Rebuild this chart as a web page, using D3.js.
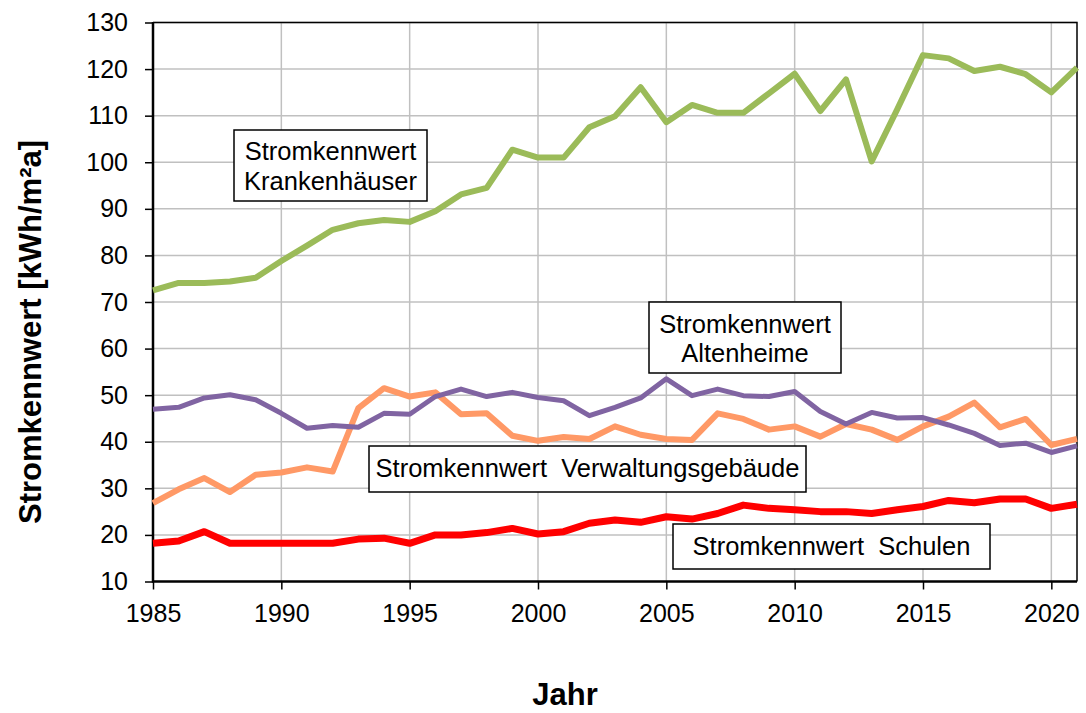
<!DOCTYPE html>
<html>
<head>
<meta charset="utf-8">
<script src="https://cdn.jsdelivr.net/npm/d3@7"></script>
<style>
body { margin: 0; background: #fff; }
svg text { font-family: "Liberation Sans", Arial, sans-serif; }
</style>
</head>
<body>
<div id="chart"></div>
<script>
var years = [1985, 1986, 1987, 1988, 1989, 1990, 1991, 1992, 1993, 1994, 1995, 1996, 1997, 1998, 1999,
	2000, 2001, 2002, 2003, 2004, 2005, 2006, 2007, 2008, 2009, 2010, 2011, 2012, 2013, 2014,
	2015, 2016, 2017, 2018, 2019, 2020, 2021];
var krankenhaeuser = [72.5, 74.1, 74.1, 74.4, 75.2, 78.8, 82.1, 85.5, 86.9, 87.6, 87.2, 89.5, 93.1, 94.5, 102.7,
	101.0, 101.0, 107.5, 109.9, 116.1, 108.6, 112.3, 110.6, 110.6, 114.8, 119.0, 111.0, 117.8, 100.2, 111.4,
	123.0, 122.3, 119.6, 120.5, 118.9, 115.0, 120.3];
var verwaltung = [26.8, 29.8, 32.2, 29.2, 32.9, 33.4, 34.5, 33.6, 47.2, 51.5, 49.7, 50.6, 45.9, 46.1, 41.3,
	40.2, 41.0, 40.6, 43.3, 41.5, 40.6, 40.4, 46.1, 44.9, 42.6, 43.3, 41.1, 43.8, 42.6, 40.4,
	43.3, 45.4, 48.4, 43.1, 44.9, 39.3, 40.6];
var altenheime = [47.0, 47.4, 49.4, 50.1, 49.0, 46.1, 42.9, 43.5, 43.1, 46.1, 45.9, 49.7, 51.3, 49.7, 50.6,
	49.5, 48.8, 45.6, 47.4, 49.4, 53.5, 49.9, 51.3, 49.9, 49.7, 50.8, 46.5, 43.8, 46.3, 45.1,
	45.2, 43.6, 41.8, 39.2, 39.7, 37.7, 39.1];
var schulen = [18.2, 18.7, 20.7, 18.2, 18.2, 18.2, 18.2, 18.2, 19.1, 19.3, 18.2, 20.0, 20.0, 20.5, 21.4,
	20.2, 20.7, 22.5, 23.2, 22.7, 23.9, 23.4, 24.6, 26.4, 25.7, 25.4, 25.0, 25.0, 24.6, 25.4,
	26.1, 27.4, 26.9, 27.7, 27.7, 25.7, 26.6];
var xTicks = [1985, 1990, 1995, 2000, 2005, 2010, 2015, 2020];
var yTicks = [10, 20, 30, 40, 50, 60, 70, 80, 90, 100, 110, 120, 130];

var series = [
	{name: 'Krankenhäuser', values: krankenhaeuser, color: '#9bbb59', width: 6},
	{name: 'Verwaltungsgebäude', values: verwaltung, color: '#ff9966', width: 6},
	{name: 'Altenheime', values: altenheime, color: '#8064a2', width: 5},
	{name: 'Schulen', values: schulen, color: '#ff0000', width: 7}
];

var w = 1086;
var h = 713;
var pLeft = 153, pRight = 1077, pTop = 22.5, pBottom = 581.5;

var svg = d3.select('#chart')
	.append('svg')
	.attr('width', w)
	.attr('height', h);

var xScale = d3.scaleLinear()
	.domain([1985, 2021])
	.range([pLeft, pRight]);
var yScale = d3.scaleLinear()
	.domain([10, 130])
	.range([pBottom, pTop]);

// gridlines
svg.append('g')
	.selectAll('line')
	.data(xTicks.slice(1))
	.enter()
	.append('line')
	.attr('x1', function (d) {return xScale(d);})
	.attr('x2', function (d) {return xScale(d);})
	.attr('y1', pTop)
	.attr('y2', pBottom)
	.attr('stroke', '#c0c0c0')
	.attr('stroke-width', 1.5);
svg.append('g')
	.selectAll('line')
	.data(yTicks.slice(1))
	.enter()
	.append('line')
	.attr('x1', pLeft)
	.attr('x2', pRight)
	.attr('y1', function (d) {return yScale(d);})
	.attr('y2', function (d) {return yScale(d);})
	.attr('stroke', '#c0c0c0')
	.attr('stroke-width', 1.5);

// frame top / right
svg.append('path')
	.attr('d', 'M' + pLeft + ',' + pTop + 'H' + pRight + 'V' + pBottom)
	.attr('fill', 'none')
	.attr('stroke', '#000')
	.attr('stroke-width', 1.5);

// axes
var xAxis = d3.axisBottom(xScale).tickValues(xTicks).tickSize(8).tickSizeOuter(0).tickFormat(d3.format('d'));
var gx = svg.append('g')
	.attr('transform', 'translate(0,' + pBottom + ')')
	.call(xAxis);
gx.selectAll('.tick line').attr('stroke-width', 1.5);
gx.selectAll('text')
	.attr('y', 40)
	.attr('dy', null)
	.attr('font-size', '25px')
	.attr('fill', '#000');

var yAxis = d3.axisLeft(yScale).tickValues(yTicks).tickSize(8).tickSizeOuter(0);
var gy = svg.append('g')
	.attr('transform', 'translate(' + pLeft + ',0)')
	.call(yAxis);
gy.selectAll('.tick line').attr('stroke-width', 1.5);
gy.selectAll('text')
	.attr('x', -25)
	.attr('font-size', '25px')
	.attr('fill', '#000');
svg.selectAll('.domain').remove();
svg.append('path')
	.attr('d', 'M' + pLeft + ',' + (pTop - 0.5) + 'V' + pBottom + 'H' + pRight)
	.attr('fill', 'none')
	.attr('stroke', '#000')
	.attr('stroke-width', 2.5);

// lines
var line = d3.line()
	.x(function (d, i) {return xScale(years[i]);})
	.y(function (d) {return yScale(d);});
svg.append('g')
	.selectAll('path')
	.data(series)
	.enter()
	.append('path')
	.attr('d', function (d) {return line(d.values);})
	.attr('fill', 'none')
	.attr('stroke', function (d) {return d.color;})
	.attr('stroke-width', function (d) {return d.width;})
	.attr('stroke-linejoin', 'round');

// label boxes
var boxes = [
	{x: 234, y: 130, w: 193, h: 71, lines: ['Stromkennwert', 'Krankenhäuser'], base: [160, 190]},
	{x: 649, y: 302, w: 192, h: 71, lines: ['Stromkennwert', 'Altenheime'], base: [333, 362]},
	{x: 369, y: 446, w: 437, h: 46, lines: ['Stromkennwert  Verwaltungsgebäude'], base: [477]},
	{x: 673, y: 524, w: 317, h: 45, lines: ['Stromkennwert  Schulen'], base: [555]}
];
var bg = svg.append('g')
	.selectAll('g')
	.data(boxes)
	.enter()
	.append('g');
bg.append('rect')
	.attr('x', function (d) {return d.x;})
	.attr('y', function (d) {return d.y;})
	.attr('width', function (d) {return d.w;})
	.attr('height', function (d) {return d.h;})
	.attr('fill', '#fff')
	.attr('stroke', '#000')
	.attr('stroke-width', 1.5);
bg.each(function (d) {
	var g = d3.select(this);
	d.lines.forEach(function (t, i) {
		g.append('text')
			.attr('x', d.x + d.w / 2)
			.attr('y', d.base[i])
			.attr('text-anchor', 'middle')
			.attr('font-size', '25.5px')
			.style('white-space', 'pre')
			.text(t);
	});
});

// axis titles
svg.append('text')
	.attr('transform', 'translate(41,332) rotate(-90)')
	.attr('text-anchor', 'middle')
	.attr('font-size', '31px')
	.attr('font-weight', 'bold')
	.text('Stromkennwert [kWh/m²a]');
svg.append('text')
	.attr('x', 565)
	.attr('y', 705)
	.attr('text-anchor', 'middle')
	.attr('font-size', '31px')
	.attr('font-weight', 'bold')
	.text('Jahr');
</script>
</body>
</html>
